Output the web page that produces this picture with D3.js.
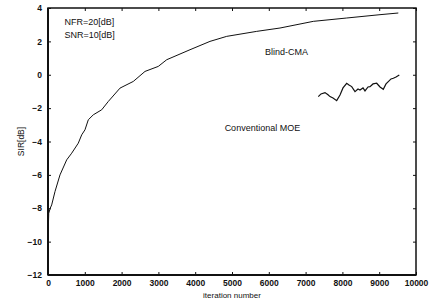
<!DOCTYPE html>
<html lang="en">
<head>
<meta charset="utf-8">
<title>SIR vs iteration</title>
<style>
  body { margin: 0; background: #fff; }
  svg text { font-family: "Liberation Sans", Arial, sans-serif; fill: #111; }
  .axis text { font-size: 8.5px; font-weight: bold; }
  .axis path, .axis line { stroke: #111; }
</style>
</head>
<body>
<div id="chart"></div>
<script src="https://d3js.org/d3.v7.js"></script>
<script>
// Blind-CMA curve: [iteration, SIR dB]
const cmaIter = [0, 20, 60, 100, 190, 326, 508, 644, 823, 916, 1005, 1095, 1231, 1459, 1639, 1957, 2318, 2636, 2997, 3226, 3859, 4402, 4856, 5671, 6304, 7209, 8117, 9022, 9519];
const cmaSir  = [-9.8, -8.3, -8.0, -7.8, -7.0, -6.0, -5.1, -4.7, -4.1, -3.6, -3.3, -2.7, -2.4, -2.1, -1.6, -0.8, -0.4, 0.2, 0.5, 0.9, 1.5, 2.0, 2.3, 2.6, 2.8, 3.2, 3.4, 3.6, 3.7];

// Conventional MOE curve
const moeIter = [7345, 7418, 7527, 7609, 7663, 7745, 7845, 7935, 8016, 8117, 8179, 8253, 8342, 8424, 8478, 8560, 8614, 8696, 8750, 8832, 8932, 9022, 9111, 9185, 9247, 9321, 9384, 9457, 9546];
const moeSir  = [-1.31, -1.15, -1.07, -1.2, -1.31, -1.39, -1.55, -1.21, -0.79, -0.51, -0.61, -0.71, -1.01, -0.85, -0.91, -0.79, -0.97, -0.73, -0.71, -0.55, -0.51, -0.73, -0.87, -0.55, -0.41, -0.25, -0.21, -0.13, -0.01];

const xTicks = [0, 1000, 2000, 3000, 4000, 5000, 6000, 7000, 8000, 9000, 10000];
const yTicks = [-12, -10, -8, -6, -4, -2, 0, 2, 4];

const W = 444, H = 304;
const margin = {top: 8, right: 28, bottom: 29, left: 48};
const width = W - margin.left - margin.right,
      height = H - margin.top - margin.bottom;

const svg = d3.select("#chart").append("svg")
  .attr("width", W).attr("height", H);
const g = svg.append("g")
  .attr("transform", `translate(${margin.left},${margin.top})`);

const x = d3.scaleLinear().domain([0, 10000]).range([0, width]);
const y = d3.scaleLinear().domain([-12, 4]).range([height, 0]);

// bottom + left axes with tick labels, ticks pointing inward
g.append("g").attr("class", "axis")
  .attr("transform", `translate(0,${height})`)
  .call(d3.axisBottom(x).tickValues(xTicks).tickSize(-3).tickSizeOuter(0).tickPadding(5).tickFormat(d3.format("d")));
g.append("g").attr("class", "axis")
  .call(d3.axisLeft(y).tickValues(yTicks).tickSize(-3).tickSizeOuter(0).tickPadding(6));

// top + right axes, ticks only
g.append("g").attr("class", "axis")
  .call(d3.axisTop(x).tickValues(xTicks).tickSize(-3).tickSizeOuter(0).tickFormat(""));
g.append("g").attr("class", "axis")
  .attr("transform", `translate(${width},0)`)
  .call(d3.axisRight(y).tickValues(yTicks).tickSize(-3).tickSizeOuter(0).tickFormat(""));

// frame
g.append("rect")
  .attr("width", width).attr("height", height)
  .attr("fill", "none").attr("stroke", "#111").attr("stroke-width", 1.5);
g.append("line").attr("x1", 0).attr("x2", width).attr("y1", height).attr("y2", height)
  .attr("stroke", "#111").attr("stroke-width", 2);
g.append("line").attr("x1", 0).attr("x2", 0).attr("y1", 0).attr("y2", height)
  .attr("stroke", "#111").attr("stroke-width", 2);
g.selectAll(".axis .domain").remove();

const line = d3.line().x(d => x(d[0])).y(d => y(d[1]));

g.append("path")
  .datum(d3.zip(cmaIter, cmaSir))
  .attr("fill", "none").attr("stroke", "#111").attr("stroke-width", 1)
  .attr("d", line);

g.append("path")
  .datum(d3.zip(moeIter, moeSir))
  .attr("fill", "none").attr("stroke", "#111").attr("stroke-width", 1.2)
  .attr("d", line);

// annotations
const notes = [
  {t: "NFR=20[dB]", it: 450, v: 3.0},
  {t: "SNR=10[dB]", it: 450, v: 2.2},
  {t: "Blind-CMA", it: 5900, v: 1.2},
  {t: "Conventional MOE", it: 4800, v: -3.4}
];
g.selectAll(".note").data(notes).join("text")
  .attr("class", "note")
  .attr("x", d => x(d.it)).attr("y", d => y(d.v))
  .attr("font-size", "9px")
  .text(d => d.t);

// axis titles
svg.append("text")
  .attr("x", margin.left + x(5000)).attr("y", 298)
  .attr("text-anchor", "middle").attr("font-size", "8px")
  .text("iteration number");
svg.append("text")
  .attr("transform", `translate(24,${margin.top + y(-4)}) rotate(-90)`)
  .attr("text-anchor", "middle").attr("font-size", "8.5px")
  .text("SIR[dB]");
</script>
</body>
</html>
